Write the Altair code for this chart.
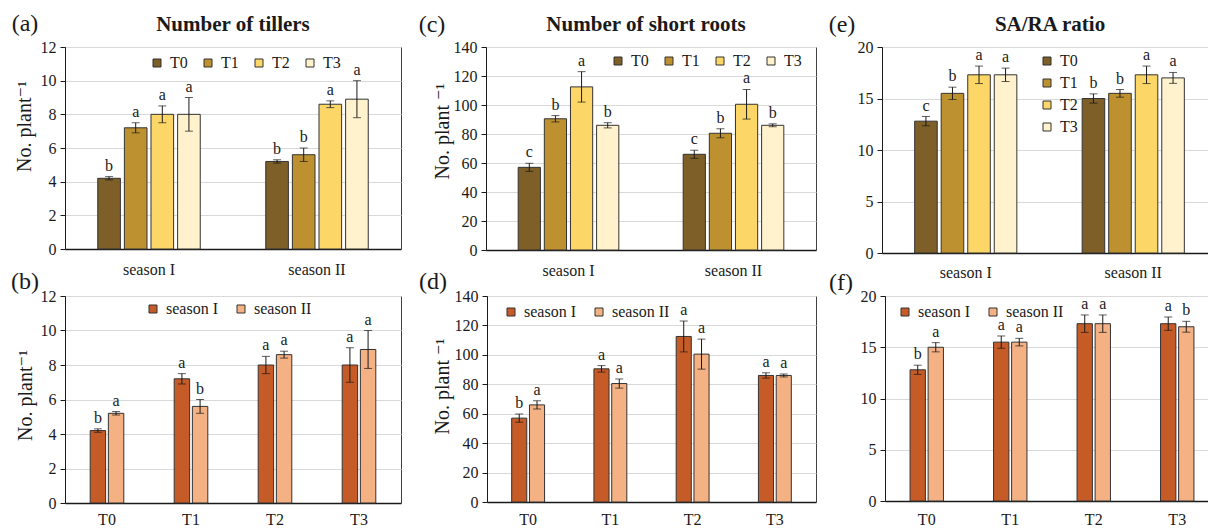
import altair as alt
import pandas as pd

SERIF = "Liberation Serif, Times New Roman, DejaVu Serif, serif"
INK = "#1a1a1a"

treatments = ["T0", "T1", "T2", "T3"]
seasons = ["season I", "season II"]

trt_colors = ["#7D5F27", "#BE9130", "#FCD666", "#FFF2CC"]
season_colors = ["#C55B26", "#F4B183"]

# Number of tillers
tillers_s1 = [4.2, 7.2, 8.0, 8.0]
tillers_s2 = [5.2, 5.6, 8.6, 8.9]
tillers_e1 = [0.1, 0.3, 0.5, 1.0]
tillers_e2 = [0.1, 0.4, 0.2, 1.1]
tillers_let_trt = [["b", "a", "a", "a"], ["b", "b", "a", "a"]]
tillers_let_sea = [["b", "a"], ["a", "b"], ["a", "a"], ["a", "a"]]

# Number of short roots
roots_s1 = [57, 90.5, 112.5, 86]
roots_s2 = [66, 80.5, 100.5, 86]
roots_e1 = [2.8, 2.2, 10.5, 1.8]
roots_e2 = [2.8, 3.1, 10.2, 1.0]
roots_let_trt = [["c", "b", "a", "b"], ["c", "b", "a", "b"]]
roots_let_sea = [["b", "a"], ["a", "a"], ["a", "a"], ["a", "a"]]

# SA/RA ratio
ratio_s1 = [12.8, 15.5, 17.3, 17.3]
ratio_s2 = [15.0, 15.5, 17.3, 17.0]
ratio_e1 = [0.45, 0.6, 0.85, 0.65]
ratio_e2 = [0.45, 0.37, 0.85, 0.53]
ratio_let_trt = [["c", "b", "a", "a"], ["b", "b", "a", "a"]]
ratio_let_sea = [["b", "a"], ["a", "a"], ["a", "a"], ["a", "b"]]


def make_df(s1, s2, e1, e2, let_trt, let_sea):
    rows = []
    for i, (means, errs) in enumerate([(s1, e1), (s2, e2)]):
        for j, t in enumerate(treatments):
            rows.append({
                "season": seasons[i], "trt": t, "mean": means[j],
                "lo": means[j] - errs[j], "hi": means[j] + errs[j],
                "lt": let_trt[i][j], "ls": let_sea[j][i],
            })
    return pd.DataFrame(rows)


def panel(df, top, ymax, ystep, w, h, label, lab_xy, title=None, title_xy=None,
          ytitle=None, ytitle_xy=None, legend=None, xlab_pad=12):
    if top:
        xf, xdom, of, odom, cols, letf, pi = "season", seasons, "trt", treatments, trt_colors, "lt", 0.39
    else:
        xf, xdom, of, odom, cols, letf, pi = "trt", treatments, "season", seasons, season_colors, "ls", 0.6
    yaxis = dict(values=list(range(0, ymax + 1, ystep)), grid=True, gridColor="#D9D9D9",
                 domainColor=INK, tickColor=INK, tickSize=5, labelFont=SERIF,
                 labelFontSize=16, labelColor=INK, labelPadding=4)
    if ytitle:
        yaxis.update(title=ytitle, titleFont=SERIF, titleFontSize=20, titleFontWeight="normal",
                     titleColor=INK, titleX=ytitle_xy[0], titleY=ytitle_xy[1],
                     titleBaseline="middle", titleAngle=270)
    else:
        yaxis.update(title=None)
    y_axis = alt.Axis(**yaxis)
    x_axis = alt.Axis(title=None, labelAngle=0, ticks=False, labelFont=SERIF,
                      labelFontSize=16, labelColor=INK, labelPadding=xlab_pad,
                      domainColor=INK, domainWidth=1.5, grid=False)
    x_main = alt.X(f"{xf}:N", sort=xdom,
                   scale=alt.Scale(domain=xdom, paddingInner=pi, paddingOuter=pi / 2),
                   axis=x_axis)
    xo_main = alt.XOffset(f"{of}:N", sort=odom,
                          scale=alt.Scale(domain=odom, paddingInner=0.15, paddingOuter=0))
    x2 = alt.X(f"{xf}:N", sort=xdom, axis=x_axis)
    xo2 = alt.XOffset(f"{of}:N", sort=odom)
    yscale = alt.Scale(domain=[0, ymax], nice=False)

    leg = dict(title=None, orient="none", symbolType="square", symbolSize=64,
               symbolStrokeColor="#333", symbolStrokeWidth=1, labelFont=SERIF,
               labelFontSize=16, labelColor=INK, labelOffset=5, padding=0)
    leg.update(legend)

    bars = alt.Chart(df).mark_bar(stroke="#333", strokeWidth=1).encode(
        x=x_main, xOffset=xo_main,
        y=alt.Y("mean:Q", scale=yscale, axis=y_axis),
        color=alt.Color(f"{of}:N", sort=odom, scale=alt.Scale(domain=odom, range=cols),
                        legend=alt.Legend(**leg)),
    )
    rule = alt.Chart(df).mark_rule(color=INK, strokeWidth=1).encode(
        x=x2, xOffset=xo2, y=alt.Y("lo:Q", axis=y_axis), y2="hi:Q")
    cap_lo = alt.Chart(df).mark_tick(color=INK, thickness=1, size=8).encode(
        x=x2, xOffset=xo2, y=alt.Y("lo:Q", axis=y_axis))
    cap_hi = alt.Chart(df).mark_tick(color=INK, thickness=1, size=8).encode(
        x=x2, xOffset=xo2, y=alt.Y("hi:Q", axis=y_axis))
    letters = alt.Chart(df).mark_text(font=SERIF, fontSize=16, color=INK,
                                      baseline="alphabetic", dy=-6).encode(
        x=x2, xOffset=xo2, y=alt.Y("hi:Q", axis=y_axis), text=f"{letf}:N")
    layers = [bars, rule, cap_lo, cap_hi, letters]
    layers.append(alt.Chart(pd.DataFrame({"t": [label]})).mark_text(
        font=SERIF, fontSize=24, color=INK, align="center", baseline="middle").encode(
        text="t:N", x=alt.value(lab_xy[0]), y=alt.value(lab_xy[1])))
    if title:
        layers.append(alt.Chart(pd.DataFrame({"t": [title]})).mark_text(
            font=SERIF, fontSize=21, fontWeight="bold", color=INK, align="center",
            baseline="middle").encode(text="t:N", x=alt.value(title_xy[0]), y=alt.value(title_xy[1])))
    return alt.layer(*layers).properties(width=w, height=h)


df_til = make_df(tillers_s1, tillers_s2, tillers_e1, tillers_e2, tillers_let_trt, tillers_let_sea)
df_root = make_df(roots_s1, roots_s2, roots_e1, roots_e2, roots_let_trt, roots_let_sea)
df_rat = make_df(ratio_s1, ratio_s2, ratio_e1, ratio_e2, ratio_let_trt, ratio_let_sea)

pa = panel(df_til, True, 12, 2, 336, 202, "(a)", (-40, -23), "Number of tillers", (168, -22),
           "No. plant⁻¹", (-41, 79),
           dict(legendX=84, legendY=8, direction="horizontal", columnPadding=12), xlab_pad=12)
pc = panel(df_root, True, 140, 20, 330, 203, "(c)", (-54, -22), "Number of short roots", (160, -22),
           "No. plant ⁻¹", (-44, 84),
           dict(legendX=124, legendY=6, direction="horizontal", columnPadding=12), xlab_pad=12)
pe = panel(df_rat, True, 20, 5, 335, 206, "(e)", (-40, -22), "SA/RA ratio", (168, -22),
           None, None,
           dict(legendX=157, legendY=6, direction="vertical", rowPadding=6), xlab_pad=11)
pb = panel(df_til, False, 12, 2, 336, 207, "(b)", (-40, -14), None, None,
           "No. plant⁻¹", (-40, 99),
           dict(legendX=80, legendY=5, direction="horizontal", columnPadding=15), xlab_pad=8)
pd_ = panel(df_root, False, 140, 20, 329, 206, "(d)", (-54, -14), None, None,
            "No. plant ⁻¹", (-45, 90),
            dict(legendX=16, legendY=8, direction="horizontal", columnPadding=15), xlab_pad=9)
pf = panel(df_rat, False, 20, 5, 334, 205, "(f)", (-44, -13), None, None,
           None, None,
           dict(legendX=12, legendY=8, direction="horizontal", columnPadding=15), xlab_pad=10)


def hc(*charts, spacing):
    return alt.hconcat(*charts, spacing=spacing, bounds="flush").resolve_scale(
        x="independent", y="independent", color="independent", xOffset="independent"
    ).resolve_legend(color="independent")


row1 = hc(hc(pa, pc, spacing=85), pe, spacing=817)
row2 = hc(hc(pb, pd_, spacing=86), pf, spacing=820)

chart = alt.vconcat(row1, row2, spacing=249, bounds="flush").resolve_scale(
    x="independent", y="independent", color="independent", xOffset="independent"
).resolve_legend(color="independent").properties(
    autosize=alt.AutoSizeParams(type="none"),
    padding={"left": 65, "top": 47, "right": 1143, "bottom": 482},
    background="white",
).configure_view(stroke="#404040", strokeWidth=1)

chart.save("out.html", embed_options={"renderer": "svg", "actions": False})
